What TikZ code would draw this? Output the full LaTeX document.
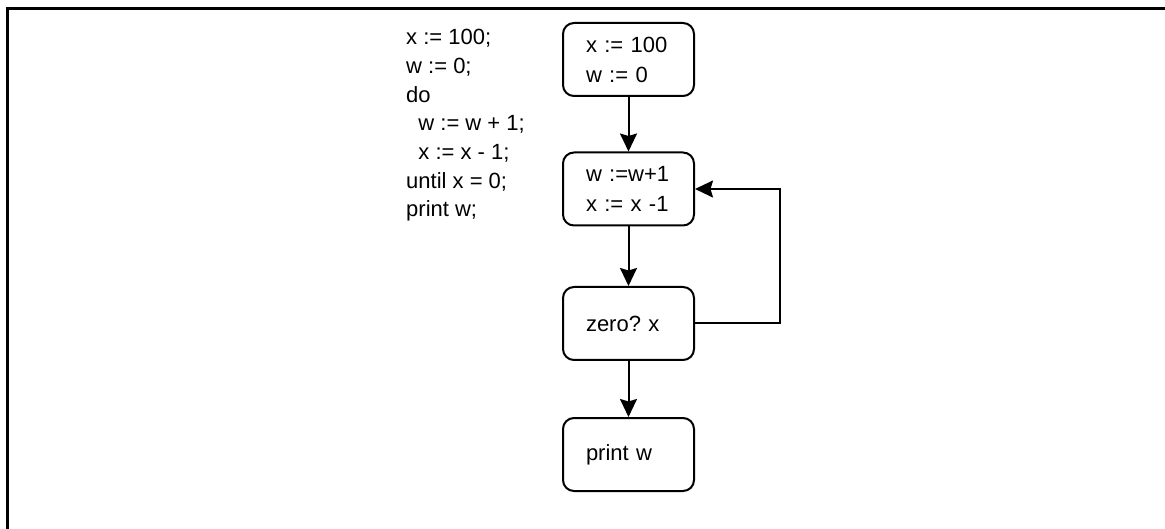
\documentclass[tikz,border=0pt]{standalone}
\usepackage{fontspec}
\setmainfont{Liberation Sans}
\usetikzlibrary{arrows.meta}
\frenchspacing
\begin{document}
\begin{tikzpicture}[x=1pt,y=-1pt,
  block/.style={draw,line width=2pt,rounded corners=11pt,
    minimum width=131pt,minimum height=73pt,inner xsep=23pt,
    text width=85pt,align=left,
    font=\fontsize{22}{30}\selectfont},
  flow/.style={line width=2pt,-{Stealth[length=18pt,width=17pt,inset=2.5pt]}},
  code/.style={anchor=north west,inner sep=0pt,align=left,
    font=\fontsize{22}{28.7}\selectfont}]
  \useasboundingbox (0,0) rectangle (1165,529);
  % frame along the top and left edges
  \draw[line width=3pt] (7,529) -- (7,8.5) -- (1165,8.5);
  % source program
  \node[code] (src) at (406,29.2) {x := 100;\\w := 0;\\do\\\ \ w := w + 1;\\\ \ x := x - 1;\\until x = 0;\\print w;};
  % flow graph
  \node[block] (init) at (628.5,59.5) {x := 100\\w := 0};
  \node[block] (body) at (628.5,189) {w :=w+1\\x := x -1};
  \node[block] (test) at (628.5,323.5) {zero? x};
  \node[block] (out)  at (628.5,454.5) {print w};
  \draw[flow] (init) -- (body);
  \draw[flow] (body) -- (test);
  \draw[flow] (test) -- (out);
  \draw[flow] (test.east) -- ++(85,0) |- (body.east);
\end{tikzpicture}
\end{document}
